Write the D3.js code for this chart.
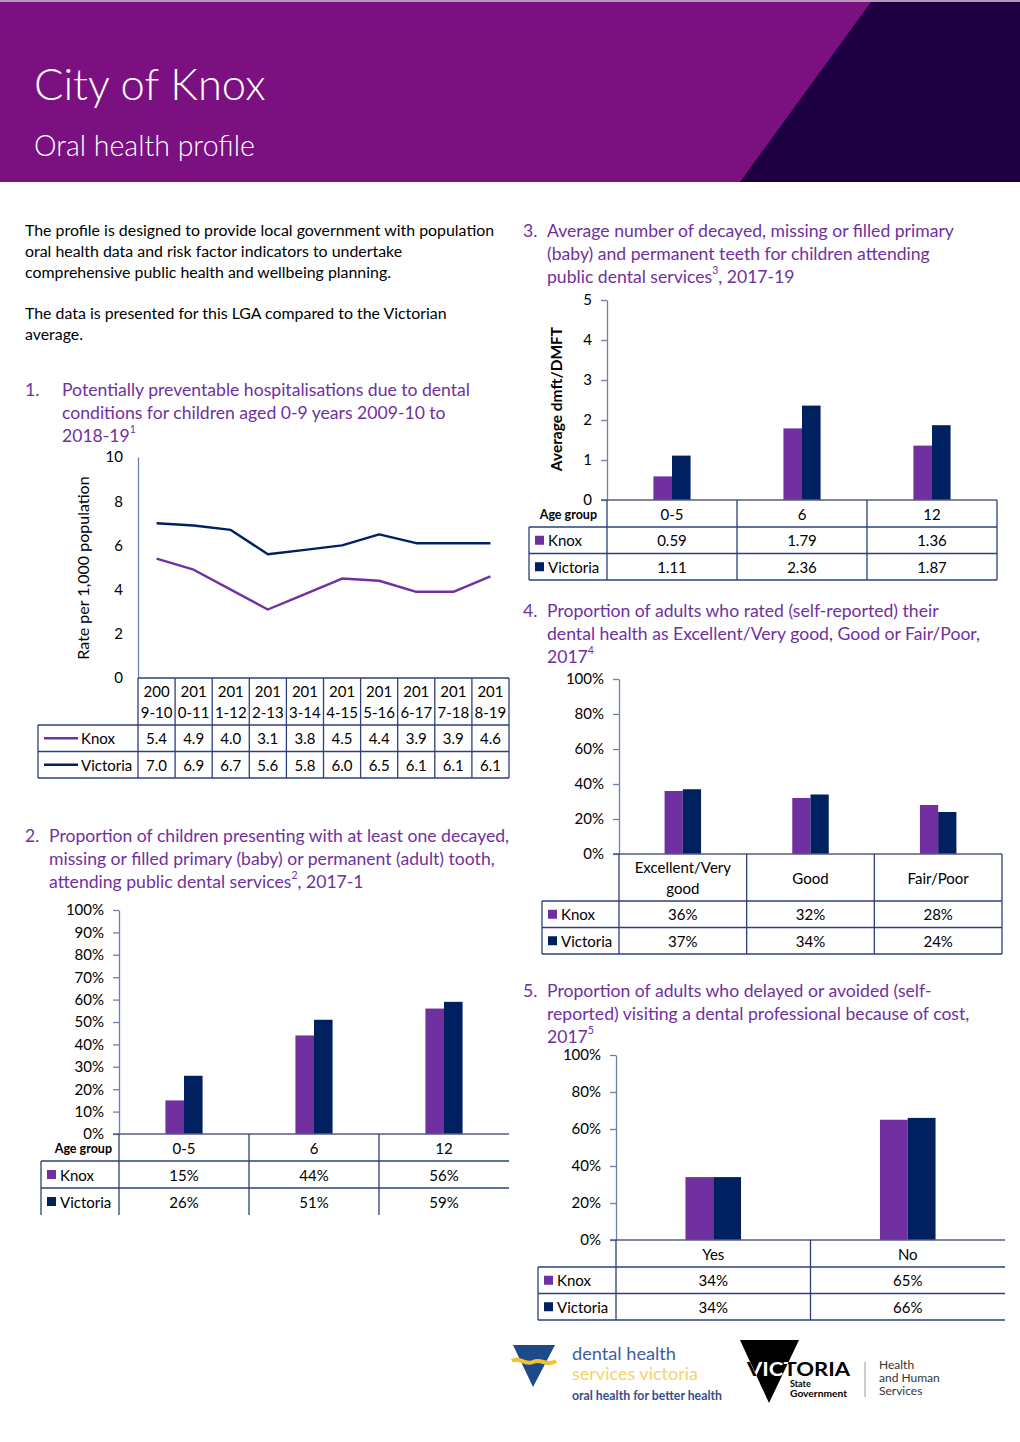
<!DOCTYPE html>
<html><head><meta charset="utf-8">
<script src="https://cdn.jsdelivr.net/npm/d3@7"></script>
<style>
body{margin:0;background:#fff;}
svg{display:block;font-family:Lato,"Open Sans",sans-serif;}
</style></head><body>
<svg id="page" width="1020" height="1442"></svg>
<script>
// ---------------- DATA ----------------
const seriesNames = ["Knox", "Victoria"];
const years = ["2009-10","2010-11","2011-12","2012-13","2013-14","2014-15","2015-16","2016-17","2017-18","2018-19"];
const hospKnox = [5.4, 4.9, 4.0, 3.1, 3.8, 4.5, 4.4, 3.9, 3.9, 4.6];
const hospVic  = [7.0, 6.9, 6.7, 5.6, 5.8, 6.0, 6.5, 6.1, 6.1, 6.1];
const hospTicks = [0, 2, 4, 6, 8, 10];

const ageGroups = ["0-5", "6", "12"];
const decayKnox = [15, 44, 56];
const decayVic  = [26, 51, 59];
const pctTicks10 = [0, 10, 20, 30, 40, 50, 60, 70, 80, 90, 100];

const dmftKnox = [0.59, 1.79, 1.36];
const dmftVic  = [1.11, 2.36, 1.87];
const dmftTicks = [0, 1, 2, 3, 4, 5];

const ratingCats = ["Excellent/Very good", "Good", "Fair/Poor"];
const ratingKnox = [36, 32, 28];
const ratingVic  = [37, 34, 24];
const pctTicks20 = [0, 20, 40, 60, 80, 100];

const costCats = ["Yes", "No"];
const costKnox = [34, 65];
const costVic  = [34, 66];

// ---------------- STYLE ----------------
const C = {knox: "#7030A0", vic: "#002060", title: "#7030A0", axis: "#6F80AE", table: "#2D3F7C"};
const FS = 15;      // chart text size
const TS = 17.6;    // section title size
const svg = d3.select("#page");

// ---------------- HEADER ----------------
svg.append("rect").attr("x",0).attr("y",0).attr("width",1020).attr("height",182).attr("fill","#7B1081");
svg.append("rect").attr("x",0).attr("y",0).attr("width",1020).attr("height",2).attr("fill","#B597BD");
svg.append("polygon").attr("points","871,2 1020,2 1020,182 740,182").attr("fill","#1D0042");
svg.append("text").attr("x",34).attr("y",100).attr("font-size",43.5).attr("font-weight",300).attr("fill","#fff").text("City of Knox");
svg.append("text").attr("x",34).attr("y",156).attr("font-size",28.5).attr("font-weight",300).attr("fill","#fff").text("Oral health profile");

// ---------------- TEXT HELPERS ----------------
function para(lines, x, y0, lh, size, fill) {
  lines.forEach((l, i) => {
    svg.append("text").attr("x", x).attr("y", y0 + i * lh).attr("font-size", size).attr("fill", fill).attr("dominant-baseline","central").text(l);
  });
}
function sectionTitle(num, numX, textX, lines, y0, sup) {
  svg.append("text").attr("x", numX).attr("y", y0).attr("font-size",TS).attr("fill",C.title).attr("dominant-baseline","central").text(num);
  lines.forEach((l, i) => {
    const t = svg.append("text").attr("x", textX).attr("y", y0 + i * 23).attr("font-size",TS).attr("fill",C.title).attr("dominant-baseline","central");
    if (sup && sup.line === i) {
      const parts = l.split("^");
      t.append("tspan").text(parts[0]);
      t.append("tspan").attr("font-size",10.5).attr("dy",-6).text(sup.text);
      if (parts[1]) t.append("tspan").attr("dy",6).text(parts[1]);
    } else t.text(l);
  });
}

para(["The profile is designed to provide local government with population",
      "oral health data and risk factor indicators to undertake",
      "comprehensive public health and wellbeing planning."], 25, 229, 21, 15.9, "#000");
para(["The data is presented for this LGA compared to the Victorian", "average."], 25, 312, 21, 15.9, "#000");

sectionTitle("1.", 25, 62, ["Potentially preventable hospitalisations due to dental",
  "conditions for children aged 0-9 years 2009-10 to", "2018-19^"], 389, {line:2, text:"1"});
sectionTitle("2.", 25, 49, ["Proportion of children presenting with at least one decayed,",
  "missing or filled primary (baby) or permanent (adult) tooth,", "attending public dental services^, 2017-1"], 835, {line:2, text:"2"});
sectionTitle("3.", 523, 547, ["Average number of decayed, missing or filled primary",
  "(baby) and permanent teeth for children attending", "public dental services^, 2017-19"], 230, {line:2, text:"3"});
sectionTitle("4.", 523, 547, ["Proportion of adults who rated (self-reported) their",
  "dental health as Excellent/Very good, Good or Fair/Poor,", "2017^"], 610, {line:2, text:"4"});
sectionTitle("5.", 523, 547, ["Proportion of adults who delayed or avoided (self-",
  "reported) visiting a dental professional because of cost,", "2017^"], 990, {line:2, text:"5"});

function styleAxis(g, size) {
  g.select(".domain").attr("stroke", C.axis).attr("stroke-width", 1.3);
  g.selectAll(".tick line").attr("stroke", C.axis).attr("stroke-width", 1.3);
  g.selectAll(".tick text").attr("font-size", size).attr("fill", "#000").attr("font-family","Lato,sans-serif");
}
function hline(x1, x2, y, col, w) {
  svg.append("line").attr("x1",x1).attr("x2",x2).attr("y1",y).attr("y2",y).attr("stroke",col||C.table).attr("stroke-width",w||1.3);
}
function vline(x, y1, y2, col, w) {
  svg.append("line").attr("x1",x).attr("x2",x).attr("y1",y1).attr("y2",y2).attr("stroke",col||C.table).attr("stroke-width",w||1.3);
}
function wrap(text, maxW, size) {
  const words = text.split(" ");
  const tmp = svg.append("text").attr("font-size", size);
  const lines = []; let cur = "";
  words.forEach(w => {
    const test = cur ? cur + " " + w : w;
    tmp.text(test);
    if (tmp.node().getComputedTextLength() > maxW && cur) { lines.push(cur); cur = w; } else cur = test;
  });
  lines.push(cur); tmp.remove();
  return lines;
}

// ---------------- CHART 1: line chart ----------------
(function() {
  const axisX = 138, rightX = 509, top = 457, base = 678, tableLeft = 38;
  const headBottom = 725, rowH = 26.5;
  const y = d3.scaleLinear().domain([0, 10]).range([base, top]);
  const x = d3.scaleBand().domain(years).range([axisX, rightX]);
  const cx = d => x(d) + x.bandwidth() / 2;
  const g = svg.append("g").attr("transform", `translate(${axisX},0)`)
    .call(d3.axisLeft(y).tickValues(hospTicks).tickSize(0).tickPadding(15));
  styleAxis(g, FS);
  svg.append("text").attr("transform", `translate(82,568) rotate(-90)`).attr("text-anchor","middle")
    .attr("dominant-baseline","central").attr("font-size",16).text("Rate per 1,000 population");
  const line = d3.line().x((d, i) => cx(years[i])).y(d => y(d));
  [[hospKnox, C.knox], [hospVic, C.vic]].forEach(([data, col]) => {
    svg.append("path").datum(data).attr("d", line).attr("fill","none").attr("stroke", col).attr("stroke-width", 2.4).attr("stroke-linejoin","round");
  });
  // table
  const bottom = headBottom + 2 * rowH;
  hline(axisX, rightX, base);
  hline(tableLeft, rightX, headBottom);
  hline(tableLeft, rightX, headBottom + rowH);
  hline(tableLeft, rightX, bottom);
  vline(tableLeft, headBottom, bottom);
  years.forEach(yr => vline(x(yr), base, bottom));
  vline(rightX, base, bottom);
  years.forEach(yr => {
    svg.append("text").attr("x", cx(yr)).attr("y", 691).attr("text-anchor","middle").attr("dominant-baseline","central").attr("font-size",FS).text(yr.slice(0,3));
    svg.append("text").attr("x", cx(yr)).attr("y", 712).attr("text-anchor","middle").attr("dominant-baseline","central").attr("font-size",FS).text(yr.slice(3));
  });
  [[hospKnox, C.knox, seriesNames[0]], [hospVic, C.vic, seriesNames[1]]].forEach(([data, col, name], r) => {
    const yc = headBottom + rowH * r + rowH / 2;
    hline(tableLeft + 6, tableLeft + 40, yc, col, 2.4);
    svg.append("text").attr("x", tableLeft + 43).attr("y", yc).attr("dominant-baseline","central").attr("font-size",FS).text(name);
    data.forEach((v, i) => svg.append("text").attr("x", cx(years[i])).attr("y", yc).attr("text-anchor","middle").attr("dominant-baseline","central").attr("font-size",FS).text(v.toFixed(1)));
  });
})();

// ---------------- BAR CHART HELPER ----------------
function barChart(cfg) {
  const y = d3.scaleLinear().domain([0, cfg.max]).range([cfg.base, cfg.top]);
  const x = d3.scaleBand().domain(cfg.cats).range([cfg.axisX, cfg.rightX]);
  const bw = x.bandwidth();
  const xs = d3.scaleBand().domain(seriesNames).range([bw * 2.5 / 7, bw * 4.5 / 7]);
  const g = svg.append("g").attr("transform", `translate(${cfg.axisX},0)`)
    .call(d3.axisLeft(y).tickValues(cfg.ticks).tickFormat(cfg.fmt).tickSize(6).tickPadding(9).tickSizeOuter(0));
  styleAxis(g, FS);
  const series = [[cfg.knox, C.knox], [cfg.vic, C.vic]];
  series.forEach(([data, col], s) => {
    svg.append("g").selectAll("rect").data(data).join("rect")
      .attr("x", (d, i) => x(cfg.cats[i]) + xs(seriesNames[s]))
      .attr("width", xs.bandwidth())
      .attr("y", d => y(d)).attr("height", d => cfg.base - y(d))
      .attr("fill", col);
  });
  if (cfg.yLabel) {
    svg.append("text").attr("transform", `translate(${cfg.yLabel.x},${cfg.yLabel.y}) rotate(-90)`).attr("text-anchor","middle")
      .attr("dominant-baseline","central").attr("font-size",15.5).attr("font-weight","bold").text(cfg.yLabel.text);
  }
  // table
  const headBottom = cfg.headBottom, rowH = cfg.rowH;
  const bottom = headBottom + 2 * rowH;
  hline(cfg.axisX - 6, cfg.rightX, cfg.base, "#555E7A", 1.3);
  hline(cfg.tableLeft, cfg.rightX, headBottom);
  hline(cfg.tableLeft, cfg.rightX, headBottom + rowH);
  if (cfg.bottomBorder) hline(cfg.tableLeft, cfg.rightX, bottom);
  vline(cfg.tableLeft, headBottom, bottom);
  cfg.cats.forEach(c => vline(x(c), cfg.base, bottom, C.table));
  if (cfg.rightBorder) vline(cfg.rightX, cfg.base, bottom);
  if (cfg.ageLabel) {
    svg.append("text").attr("x", cfg.ageLabel.x).attr("y", (cfg.base + headBottom) / 2 + 1).attr("text-anchor","end")
      .attr("dominant-baseline","central").attr("font-size",12.5).attr("font-weight","bold").text("Age group");
  }
  cfg.cats.forEach(c => {
    const lines = wrap(c, bw - 20, FS);
    const yc = (cfg.base + headBottom) / 2;
    lines.forEach((l, k) => {
      svg.append("text").attr("x", x(c) + bw / 2).attr("y", yc + (k - (lines.length - 1) / 2) * 21)
        .attr("text-anchor","middle").attr("dominant-baseline","central").attr("font-size",FS).text(l);
    });
  });
  series.forEach(([data, col], r) => {
    const yc = headBottom + rowH * r + rowH / 2;
    svg.append("rect").attr("x", cfg.tableLeft + 6).attr("y", yc - 4.5).attr("width", 9).attr("height", 9).attr("fill", col);
    svg.append("text").attr("x", cfg.tableLeft + 19).attr("y", yc).attr("dominant-baseline","central").attr("font-size",FS).text(seriesNames[r]);
    data.forEach((v, i) => svg.append("text").attr("x", x(cfg.cats[i]) + bw / 2).attr("y", yc).attr("text-anchor","middle")
      .attr("dominant-baseline","central").attr("font-size",FS).text(cfg.valFmt(v)));
  });
}

const pct = d => d + "%";

barChart({cats: ageGroups, knox: decayKnox, vic: decayVic, max: 100, ticks: pctTicks10, fmt: pct, valFmt: pct,
  axisX: 119, rightX: 509, top: 910, base: 1134, tableLeft: 41, headBottom: 1161, rowH: 27,
  ageLabel: {x: 112}, bottomBorder: false, rightBorder: false});

barChart({cats: ageGroups, knox: dmftKnox, vic: dmftVic, max: 5, ticks: dmftTicks, fmt: d3.format("d"), valFmt: d => d.toFixed(2),
  axisX: 607, rightX: 997, top: 300, base: 500, tableLeft: 529, headBottom: 527, rowH: 26.5,
  ageLabel: {x: 597}, bottomBorder: true, rightBorder: true, yLabel: {x: 556, y: 399, text: "Average dmft/DMFT"}});

barChart({cats: ratingCats, knox: ratingKnox, vic: ratingVic, max: 100, ticks: pctTicks20, fmt: pct, valFmt: pct,
  axisX: 619, rightX: 1002, top: 679, base: 854, tableLeft: 542, headBottom: 901, rowH: 26.5,
  bottomBorder: true, rightBorder: true});

barChart({cats: costCats, knox: costKnox, vic: costVic, max: 100, ticks: pctTicks20, fmt: pct, valFmt: pct,
  axisX: 616, rightX: 1005, top: 1055, base: 1240, tableLeft: 538, headBottom: 1267, rowH: 26.5,
  bottomBorder: true, rightBorder: false});

// ---------------- LOGOS ----------------
(function() {
  svg.append("polygon").attr("points","513,1345 555,1345 533,1387").attr("fill","#1F4A8A");
  svg.append("path").attr("d","M512,1361 C520,1356 524,1366 533,1362 C542,1358 546,1367 556,1361")
    .attr("fill","none").attr("stroke","#F2C230").attr("stroke-width",4);
  svg.append("text").attr("x",572).attr("y",1360).attr("font-size",18).attr("fill","#3D5E9E").attr("textLength",104).attr("lengthAdjust","spacingAndGlyphs").text("dental health");
  svg.append("text").attr("x",572).attr("y",1380).attr("font-size",17).attr("fill","#F4D36E").attr("textLength",126).attr("lengthAdjust","spacingAndGlyphs").text("services victoria");
  svg.append("text").attr("x",572).attr("y",1400).attr("font-size",13).attr("font-weight","bold").attr("fill","#34508C").attr("textLength",150).attr("lengthAdjust","spacingAndGlyphs").text("oral health for better health");

  const defs = svg.append("defs");
  defs.append("clipPath").attr("id","vicTri").append("polygon").attr("points","740,1340 799,1340 769,1403");
  svg.append("polygon").attr("points","740,1340 799,1340 769,1403").attr("fill","#000");
  const vt = (fill) => svg.append("text").attr("x",747).attr("y",1376).attr("font-size",19).attr("font-weight","bold").attr("fill",fill)
    .attr("textLength",103).attr("lengthAdjust","spacingAndGlyphs").text("VICTORIA");
  vt("#000");
  vt("#fff").attr("clip-path","url(#vicTri)");
  svg.append("text").attr("x",790).attr("y",1387).attr("font-size",9).attr("font-weight","bold").text("State");
  svg.append("text").attr("x",790).attr("y",1397).attr("font-size",9).attr("font-weight","bold").attr("textLength",57).attr("lengthAdjust","spacingAndGlyphs").text("Government");
  vline(865, 1362, 1397, "#999", 1);
  ["Health","and Human","Services"].forEach((t, i) =>
    svg.append("text").attr("x",879).attr("y",1369 + i * 13).attr("font-size",12).attr("fill","#333").text(t));
})();
</script>
</body></html>
